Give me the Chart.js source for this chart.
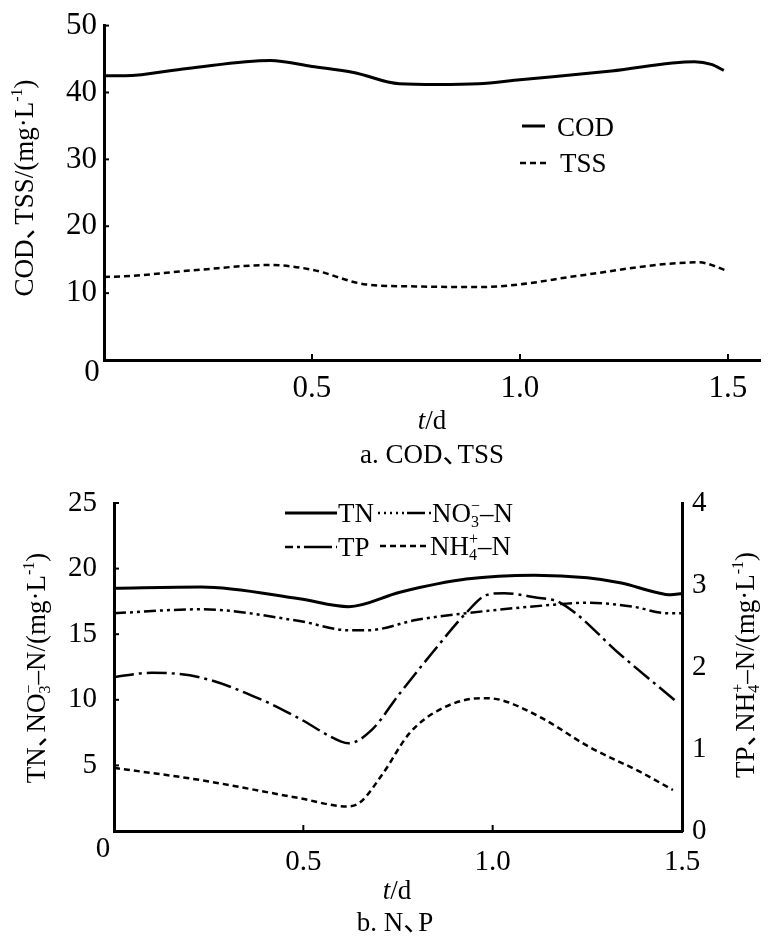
<!DOCTYPE html>
<html>
<head>
<meta charset="utf-8">
<script src="https://cdn.jsdelivr.net/npm/chart.js@4.4.1/dist/chart.umd.min.js"></script>
<style>
  body { margin: 0; background: #fff; }
  #wrapA { position: absolute; left: 0; top: 0; }
  #wrapB { position: absolute; left: 0; top: 460px; }
</style>
</head>
<body>
<div id="wrapA"><canvas id="chartA" width="774" height="475"></canvas></div>
<div id="wrapB"><canvas id="chartB" width="774" height="483"></canvas></div>
<script>
// a. COD, TSS (mg/L) against time t (d)
var codT = [0, 0.05, 0.2, 0.4, 0.5, 0.6, 0.71, 0.8, 0.9, 1.0, 1.22, 1.42, 1.46, 1.49]
var codV = [42.5, 42.5, 43.6, 44.8, 43.9, 43.0, 41.3, 41.2, 41.3, 41.9, 43.2, 44.6, 44.2, 43.3]
var tssT = [0, 0.07, 0.23, 0.4, 0.5, 0.63, 0.75, 0.9, 1.0, 1.14, 1.43, 1.5]
var tssV = [12.4, 12.6, 13.5, 14.2, 13.5, 11.3, 11.0, 10.9, 11.3, 12.6, 14.6, 13.3]

// b. N, P  (TN, NO3-N on left axis; TP, NH4-N on right axis)
var tnT = [0, 0.23, 0.49, 0.62, 0.755, 0.93, 1.11, 1.25, 1.34, 1.43, 1.47, 1.5]
var tnV = [18.5, 18.6, 17.7, 17.1, 18.2, 19.2, 19.5, 19.3, 18.9, 18.2, 18.0, 18.1]
var no3T = [0, 0.23, 0.49, 0.62, 0.67, 0.8, 0.93, 1.14, 1.25, 1.37, 1.46, 1.5]
var no3V = [16.6, 16.9, 16.0, 15.3, 15.3, 16.1, 16.6, 17.2, 17.4, 17.1, 16.6, 16.6]
var tpT = [0, 0.1, 0.23, 0.4, 0.49, 0.6, 0.62, 0.68, 0.755, 0.84, 0.93, 0.985, 1.03, 1.11, 1.18, 1.34, 1.49]
var tpV = [1.88, 1.93, 1.87, 1.58, 1.37, 1.09, 1.07, 1.23, 1.68, 2.17, 2.66, 2.88, 2.90, 2.85, 2.78, 2.14, 1.56]
var nh4T = [0, 0.23, 0.49, 0.615, 0.65, 0.71, 0.78, 0.86, 0.97, 1.02, 1.125, 1.257, 1.39, 1.476]
var nh4V = [0.77, 0.62, 0.40, 0.30, 0.35, 0.70, 1.19, 1.48, 1.62, 1.60, 1.39, 1.02, 0.72, 0.50]

var xTicks = [0.5, 1.0, 1.5]
var yTicksA = [10, 20, 30, 40, 50]
var yTicksL = [5, 10, 15, 20, 25]
var yTicksR = [0, 1, 2, 3, 4]

var FONT = '"Liberation Serif", "DejaVu Serif", "Noto Sans CJK SC", serif'

function pts(t, v) {
    return t.map(function (x, i) { return { x: x, y: v[i] } })
}

function fixTicks(arr) {
    return function (scale) { scale.ticks = arr.map(function (v) { return { value: v } }) }
}

// text with sub/superscripts, italics and kerning
// parts: strings, {sub, sup}, {it}, {dx}
function walk(ctx, parts, size, cb) {
    var cx = 0
    parts.forEach(function (p) {
        if (typeof p === 'string') {
            ctx.font = size + 'px ' + FONT
            if (cb) cb(p, cx, 0)
            cx += ctx.measureText(p).width
        } else if (p.it !== undefined) {
            ctx.font = 'italic ' + size + 'px ' + FONT
            if (cb) cb(p.it, cx, 0)
            cx += ctx.measureText(p.it).width
        } else if (p.dx !== undefined) {
            cx += p.dx * size
        } else {
            var s = Math.round(size * 0.6)
            ctx.font = s + 'px ' + FONT
            var ww = 0
            if (p.sub) { if (cb) cb(p.sub, cx, size * 0.18); ww = ctx.measureText(p.sub).width }
            if (p.sup) { ctx.font = s + 'px ' + FONT; if (cb) cb(p.sup, cx, -size * 0.4); ww = Math.max(ww, ctx.measureText(p.sup).width) }
            cx += ww
        }
    })
    return cx
}
function drawRich(ctx, parts, x, y, size, align) {
    var w = walk(ctx, parts, size, null)
    var x0 = align === 'center' ? x - w / 2 : (align === 'right' ? x - w : x)
    var base = y + size * 0.33
    ctx.textBaseline = 'alphabetic'
    ctx.textAlign = 'left'
    walk(ctx, parts, size, function (txt, dx, dy) { ctx.fillText(txt, x0 + dx, base + dy) })
}
function drawRotated(ctx, parts, x, y, size) {
    ctx.save()
    ctx.translate(x, y)
    ctx.rotate(-Math.PI / 2)
    drawRich(ctx, parts, 0, 0, size, 'center')
    ctx.restore()
}
function sample(ctx, x1, x2, y, dash, w) {
    ctx.save()
    ctx.strokeStyle = '#000'
    ctx.lineWidth = w
    ctx.setLineDash(dash)
    ctx.beginPath()
    ctx.moveTo(x1, y)
    ctx.lineTo(x2, y)
    ctx.stroke()
    ctx.restore()
}
function inTicks(ctx, scale, vals, dir) {
    ctx.save()
    ctx.strokeStyle = '#000'
    ctx.lineWidth = 2
    vals.forEach(function (v) {
        var p = scale.getPixelForValue(v)
        ctx.beginPath()
        if (dir === 'up') { ctx.moveTo(p, scale.top); ctx.lineTo(p, scale.top - 6) }
        else if (dir === 'right') { ctx.moveTo(scale.right, p); ctx.lineTo(scale.right + 5, p) }
        else { ctx.moveTo(scale.left, p); ctx.lineTo(scale.left - 5, p) }
        ctx.stroke()
    })
    ctx.restore()
}

var dashTSS = [6, 4]
var dashNO3 = [12, 4, 3, 4, 3, 4]
var dashTP = [20, 5, 3, 5]
var dashNH4 = [6, 4]
var DUN = { dx: -0.45 }  // tighten the wide CJK comma

var decorA = {
    id: 'decorA',
    afterDraw: function (chart) {
        var ctx = chart.ctx
        ctx.fillStyle = '#000'
        inTicks(ctx, chart.scales.x, xTicks, 'up')
        inTicks(ctx, chart.scales.y, yTicksA, 'right')
        drawRotated(ctx, ['COD、', DUN, 'TSS/(mg·L', { sup: '-1' }, ')'], 24, 188, 27)
        drawRich(ctx, ['0'], 92, 371, 31, 'center')
        drawRich(ctx, [{ it: 't' }, '/d'], 432, 420, 27, 'center')
        drawRich(ctx, ['a. COD、', DUN, 'TSS'], 432, 454, 27, 'center')
        sample(ctx, 522, 545, 126, [], 3)
        drawRich(ctx, ['COD'], 557, 127, 27, 'left')
        sample(ctx, 520, 546, 163, dashTSS, 2.5)
        drawRich(ctx, ['TSS'], 560, 163, 27, 'left')
    }
}

var decorB = {
    id: 'decorB',
    afterDraw: function (chart) {
        var ctx = chart.ctx
        ctx.fillStyle = '#000'
        inTicks(ctx, chart.scales.x, xTicks, 'up')
        inTicks(ctx, chart.scales.y, yTicksL, 'right')
        drawRotated(ctx, ['TN、', DUN, 'NO', { sub: '3', sup: '−' }, '–N/(mg·L', { sup: '-1' }, ')'], 36, 208, 27)
        drawRotated(ctx, ['TP、', DUN, 'NH', { sub: '4', sup: '+' }, '–N/(mg·L', { sup: '-1' }, ')'], 745, 205, 27)
        drawRich(ctx, ['0'], 103, 387, 29, 'center')
        drawRich(ctx, [{ it: 't' }, '/d'], 397, 430, 27, 'center')
        drawRich(ctx, ['b. N、', DUN, 'P'], 395, 462, 27, 'center')
        // legend
        sample(ctx, 285, 337, 53, [], 3)
        drawRich(ctx, ['TN'], 338, 53, 27, 'left')
        sample(ctx, 378, 432, 53, [2, 4, 2, 4, 2, 4, 2, 4, 2, 3, 16, 0], 2.5)
        drawRich(ctx, ['NO', { sub: '3', sup: '−' }, '–N'], 432, 53, 27, 'left')
        sample(ctx, 285, 337, 87, [8, 4, 3, 4, 20, 0], 2.5)
        drawRich(ctx, ['TP'], 338, 87, 27, 'left')
        sample(ctx, 380, 430, 86, dashNH4, 2.5)
        drawRich(ctx, ['NH', { sub: '4', sup: '+' }, '–N'], 430, 86, 27, 'left')
    }
}

var tickFontA = { family: FONT, size: 31 }
var tickFontB = { family: FONT, size: 29 }

new Chart(document.getElementById('chartA'), {
    type: 'line',
    data: {
        datasets: [
            { label: 'COD', data: pts(codT, codV), borderColor: '#000', borderWidth: 3, pointRadius: 0, cubicInterpolationMode: 'monotone', fill: false },
            { label: 'TSS', data: pts(tssT, tssV), borderColor: '#000', borderWidth: 2.5, borderDash: dashTSS, pointRadius: 0, cubicInterpolationMode: 'monotone', fill: false }
        ]
    },
    options: {
        responsive: false,
        animation: false,
        devicePixelRatio: 1,
        layout: { padding: { top: 15, right: 14, left: 0, bottom: 0 } },
        plugins: { legend: { display: false }, tooltip: { enabled: false } },
        scales: {
            x: {
                type: 'linear', min: 0, max: 1.577,
                afterBuildTicks: fixTicks(xTicks),
                afterFit: function (s) { s.height = 115 },
                grid: { display: false, drawTicks: false },
                border: { display: true, color: '#000', width: 3 },
                ticks: { color: '#000', font: tickFontA, padding: 10, maxRotation: 0, callback: function (v) { return v.toFixed(1) } }
            },
            y: {
                min: 0, max: 50,
                afterBuildTicks: fixTicks(yTicksA),
                afterFit: function (s) { s.width = 104 },
                grid: { display: false, drawTicks: false },
                border: { display: true, color: '#000', width: 3 },
                ticks: { color: '#000', font: tickFontA, padding: 7 }
            }
        }
    },
    plugins: [decorA]
})

new Chart(document.getElementById('chartB'), {
    type: 'line',
    data: {
        datasets: [
            { label: 'TN', data: pts(tnT, tnV), yAxisID: 'y', borderColor: '#000', borderWidth: 3, pointRadius: 0, cubicInterpolationMode: 'monotone', fill: false },
            { label: 'NO3-N', data: pts(no3T, no3V), yAxisID: 'y', borderColor: '#000', borderWidth: 2.5, borderDash: dashNO3, pointRadius: 0, cubicInterpolationMode: 'monotone', fill: false },
            { label: 'TP', data: pts(tpT, tpV), yAxisID: 'y2', borderColor: '#000', borderWidth: 2.5, borderDash: dashTP, pointRadius: 0, cubicInterpolationMode: 'monotone', fill: false },
            { label: 'NH4-N', data: pts(nh4T, nh4V), yAxisID: 'y2', borderColor: '#000', borderWidth: 2.5, borderDash: dashNH4, pointRadius: 0, cubicInterpolationMode: 'monotone', fill: false }
        ]
    },
    options: {
        responsive: false,
        animation: false,
        devicePixelRatio: 1,
        layout: { padding: { top: 43, right: 0, left: 0, bottom: 0 } },
        plugins: { legend: { display: false }, tooltip: { enabled: false } },
        scales: {
            x: {
                type: 'linear', min: 0, max: 1.5,
                afterBuildTicks: fixTicks(xTicks),
                afterFit: function (s) { s.height = 112 },
                grid: { display: false, drawTicks: false },
                border: { display: true, color: '#000', width: 3 },
                ticks: { color: '#000', font: tickFontB, padding: 14, maxRotation: 0, callback: function (v) { return v.toFixed(1) } }
            },
            y: {
                position: 'left', min: 0, max: 25,
                afterBuildTicks: fixTicks(yTicksL),
                afterFit: function (s) { s.width = 114 },
                grid: { display: false, drawTicks: false },
                border: { display: true, color: '#000', width: 3 },
                ticks: { color: '#000', font: tickFontB, padding: 17 }
            },
            y2: {
                position: 'right', min: 0, max: 4,
                afterBuildTicks: fixTicks(yTicksR),
                afterFit: function (s) { s.width = 92 },
                grid: { display: false, drawTicks: false },
                border: { display: true, color: '#000', width: 3 },
                ticks: { color: '#000', font: tickFontB, padding: 10 }
            }
        }
    },
    plugins: [decorB]
})
</script>
</body>
</html>
